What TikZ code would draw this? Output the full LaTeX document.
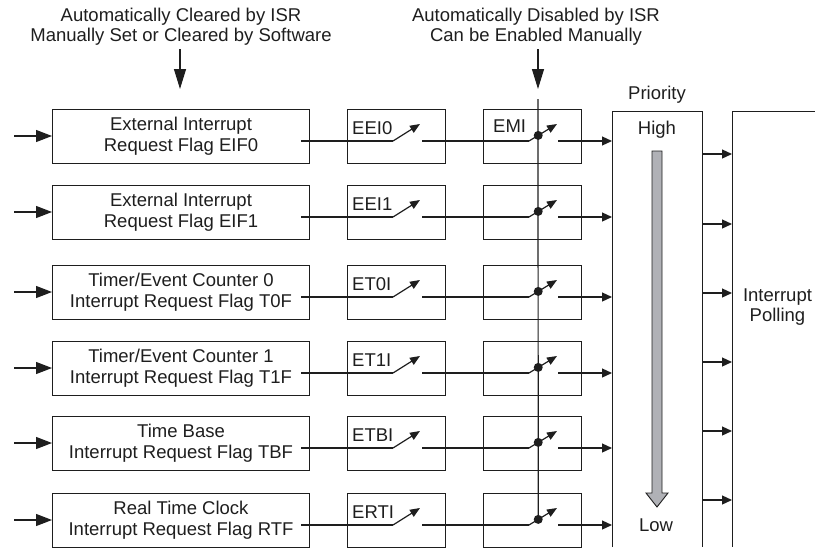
\documentclass[tikz,border=0pt]{standalone}
\usepackage{fontspec}
\setmainfont{Liberation Sans}
\usetikzlibrary{arrows.meta,calc}
\definecolor{arrgray}{RGB}{176,177,182}
\definecolor{ink}{RGB}{30,30,30}
\newcommand\irow[5]{%
  \node[flagbox] (flag#1) at (52,#2) {#3};
  \node[enbox] (en#1) at (347,#2) {};
  \node[enbox] (mi#1) at (483,#2) {};
  \node[lbl] (enl#1) at (352,#2+25) {#4};
  \coordinate (in#1) at (14,#2+27);
  \coordinate (s#1) at (301,#2+32);
  \coordinate (a#1) at (393,#2+32);
  \coordinate (b#1) at (420,#2+15);
  \coordinate (c#1) at (422,#2+32);
  \coordinate (d#1) at (529,#2+32);
  \coordinate (e#1) at (557,#2+15);
  \coordinate (f#1) at (558,#2+32);
  \coordinate (dot#1) at ($(d#1)!0.33!(e#1)$);
  \coordinate (po#1) at (702,#5);
  \draw[bigarrow] (in#1) -- (in#1 -| flag#1.west);
  \draw[wire] (s#1) -- (a#1);
  \draw[swarrow] (a#1) -- (b#1);
  \draw[wire] (c#1) -- (d#1);
  \draw[swarrow] (d#1) -- (e#1);
  \fill[ink] (dot#1) circle (4.5);
  \draw[smallarrow] (f#1) -- (f#1 -| pw);
  \draw[smallarrow] (po#1) -- (po#1 -| pl);
}
\begin{document}
\begin{tikzpicture}[x=1pt,y=-1pt,
  every node/.style={font=\fontsize{18.5}{20.5}\selectfont, inner sep=0pt, text=ink},
  flagbox/.style={draw=ink, line width=1pt, minimum width=257pt, minimum height=53.5pt, align=center, anchor=north west},
  enbox/.style={draw=ink, line width=1pt, minimum width=98pt, minimum height=53.5pt, anchor=north west},
  wire/.style={draw=ink, line width=1.2pt},
  bigarrow/.style={wire, -{Triangle[length=16pt,width=12pt]}},
  toparrow/.style={wire, -{Triangle[length=20pt,width=12pt]}},
  smallarrow/.style={wire, -{Triangle[length=10pt,width=9pt]}},
  swarrow/.style={wire, -{Triangle[length=10pt,width=8pt]}},
  lbl/.style={anchor=base west},
]
\useasboundingbox (0,0) rectangle (815,547);

% priority and polling boxes (open at the picture edges)
\coordinate (pw) at (612,111);
\coordinate (pe) at (702,111);
\coordinate (pl) at (732,111);
\draw[wire, line width=1pt] (612,547) -- (pw) -- (pe) -- (702,547);
\draw[wire, line width=1pt] (815,111) -- (pl) -- (732,547);

% top notes
\node[align=center] (note1) at (181,26.7) {Automatically Cleared by ISR\\Manually Set or Cleared by Software};
\node[align=center] (note2) at (536,26.7) {Automatically Disabled by ISR\\Can be Enabled Manually};
\coordinate (n1a) at (180,49);
\coordinate (n1b) at (180,89);
\coordinate (n2a) at (538,49);
\coordinate (n2b) at (538,89);
\draw[toparrow] (n1a) -- (n1b);
\draw[toparrow] (n2a) -- (n2b);

% rows
\irow{1}{109}{External Interrupt\\Request Flag EIF0}{EEI0}{154}
\irow{2}{185}{External Interrupt\\Request Flag EIF1}{EEI1}{224}
\irow{3}{265}{Timer/Event Counter 0\\Interrupt Request Flag T0F}{ET0I}{293}
\irow{4}{341}{Timer/Event Counter 1\\Interrupt Request Flag T1F}{ET1I}{362}
\irow{5}{416}{Time Base\\Interrupt Request Flag TBF}{ETBI}{431}
\irow{6}{493}{Real Time Clock\\Interrupt Request Flag RTF}{ERTI}{500}

\node[lbl] (emi) at (493,132) {EMI};

% global enable line
\coordinate (vtop) at (538,99);
\draw[wire] (vtop) -- (dot6);

% priority labels and arrow
\node[anchor=base] (prio) at (657,99) {Priority};
\node[anchor=base] (high) at (657,134) {High};
\node[anchor=base] (low) at (656,531) {Low};
\draw[draw=ink, line width=0.9pt, fill=arrgray]
  (652,151) -- (662,151) -- (662,493) -- (668,493) -- (657,507) -- (646,493) -- (652,493) -- cycle;

\node[align=center] (poll) at (777.5,306.8) {Interrupt\\Polling};
\end{tikzpicture}
\end{document}
